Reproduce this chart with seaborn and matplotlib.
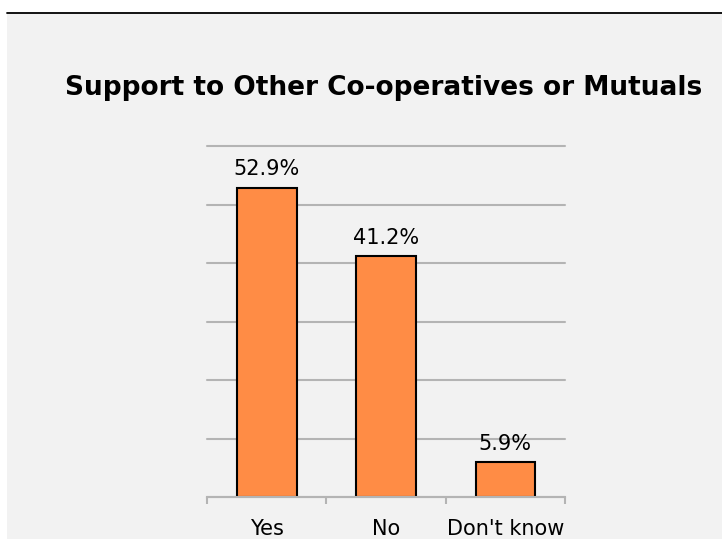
import matplotlib
matplotlib.use("Agg")
import matplotlib.pyplot as plt
import seaborn as sns
from matplotlib.patches import Rectangle
from matplotlib.lines import Line2D

categories = ["Yes", "No", "Don't know"]
values = [52.9, 41.2, 5.9]
value_labels = ["52.9%", "41.2%", "5.9%"]
title = "Support to Other Co-operatives or Mutuals"

sns.set_theme(style="white")
plt.rcParams['font.family'] = ['DejaVu Sans']

W, H = 722, 539
fig = plt.figure(figsize=(W / 100, H / 100), dpi=100)
fig.patch.set_facecolor("white")
fig.patches.append(Rectangle((7 / W, 0), 1, (H - 13) / H, transform=fig.transFigure,
                             facecolor="#f2f2f2", edgecolor="none", zorder=-5))
fig.lines.append(Line2D([7 / W, 1], [(H - 13) / H, (H - 13) / H], transform=fig.transFigure,
                        color="black", linewidth=1.3, zorder=-4))

ax = fig.add_axes([207 / W, (H - 497) / H, (565 - 207) / W, (497 - 146) / H])
ax.set_zorder(2)
ax.set_facecolor("none")

sns.barplot(x=categories, y=values, color="#ff8c45", edgecolor="black",
            linewidth=1.5, width=0.5, saturation=1, ax=ax, zorder=3)

ax.set_ylim(0, 60)
ax.set_xlim(-0.5, 2.5)
ax.set_yticks(range(0, 61, 10))
ax.yaxis.grid(True, color="#b4b4b4", linewidth=1.5)
for gl in ax.get_ygridlines():
    gl.set_clip_on(False)
ax.set_axisbelow(True)
ax.tick_params(axis="y", left=False, labelleft=False)
for s in ["left", "right", "top"]:
    ax.spines[s].set_visible(False)
ax.spines["bottom"].set_color("#b4b4b4")
ax.spines["bottom"].set_linewidth(1.5)
ax.spines["bottom"].set_zorder(4)

ax.set_xticks([-0.5, 0.5, 1.5, 2.5], minor=True)
ax.tick_params(axis="x", which="minor", length=5, width=1.5, color="#b4b4b4", bottom=True)
ax.tick_params(axis="x", which="major", length=0, pad=16, labelsize=15, labelcolor="black")
ax.set_xlabel("")
ax.set_ylabel("")

ax.bar_label(ax.containers[0], labels=value_labels, padding=6, fontsize=15, color="black")

fig.text(384 / W, 1 - 88 / H, title, ha="center", va="center",
         fontsize=19, fontweight="bold", color="black")

fig.savefig("out.png", dpi=100, facecolor=fig.get_facecolor())
